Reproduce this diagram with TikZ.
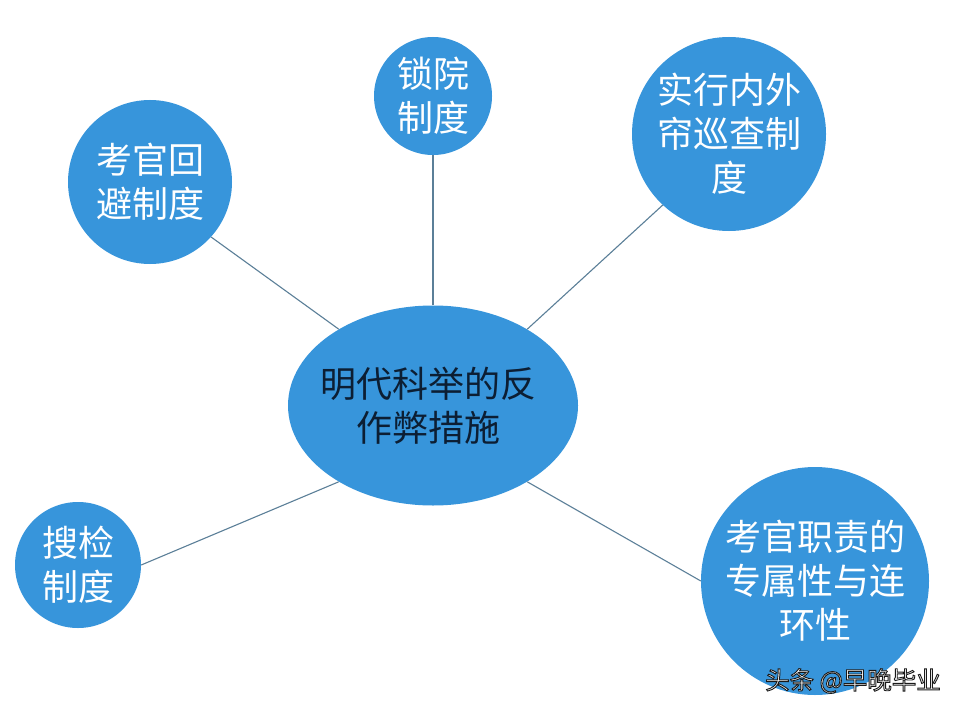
\documentclass[tikz,border=0pt]{standalone}
\usepackage{fontspec}
\usetikzlibrary{shapes.geometric}
\newfontfamily\cjk{Noto Sans CJK SC}
\definecolor{bub}{HTML}{3795DB}
\definecolor{lnk}{HTML}{5B7F98}
\definecolor{ctxt}{HTML}{0C1E33}
\tikzset{
  bub/.style={circle,fill=bub,draw=none,inner sep=0pt,align=center,font=\cjk\fontsize{36pt}{44pt}\selectfont,text=white},
  hub/.style={ellipse,fill=bub,draw=none,inner xsep=-7pt,inner ysep=0pt,align=center,font=\cjk\fontsize{36pt}{44pt}\selectfont,text=ctxt,minimum width=290pt,minimum height=200pt},
  lnk/.style={draw=lnk,line width=1.1pt},
}
\begin{document}
\begin{tikzpicture}[x=1pt,y=-1pt]
\useasboundingbox[fill=white] (0,0) rectangle (960,714);
\node[hub] (m) at (433,405.5) {\kern-9pt明代科举的反\\\kern-9pt作弊措施};
\node[bub,minimum size=164pt] (a) at (150,182) {考官回\\避制度};
\node[bub,minimum size=118pt] (b) at (433,96) {锁院\\制度};
\node[bub,minimum size=194pt] (c) at (729,134) {实行内外\\帘巡查制\\度};
\node[bub,minimum size=126pt] (d) at (78,565) {搜检\\制度};
\node[bub,minimum size=228pt] (e) at (815,581) {考官职责的\\专属性与连\\环性};
\draw[lnk] (m.north) -- (b.south);
\draw[lnk] (m.141) -- (a.-42);
\draw[lnk] (m.39) -- (c.227);
\draw[lnk] (m.219.6) -- (d.east);
\draw[lnk] (m.-39.3) -- (e.west);
\node[font=\cjk\fontsize{24.5pt}{28pt}\selectfont,text=white,anchor=east,inner sep=0pt] (w) at (941,681) {\special{pdf:code 0.1 0.1 0.1 RG 0.9 w 2 Tr}头条 @早晚毕业\special{pdf:code 0 Tr}};
\end{tikzpicture}
\end{document}
